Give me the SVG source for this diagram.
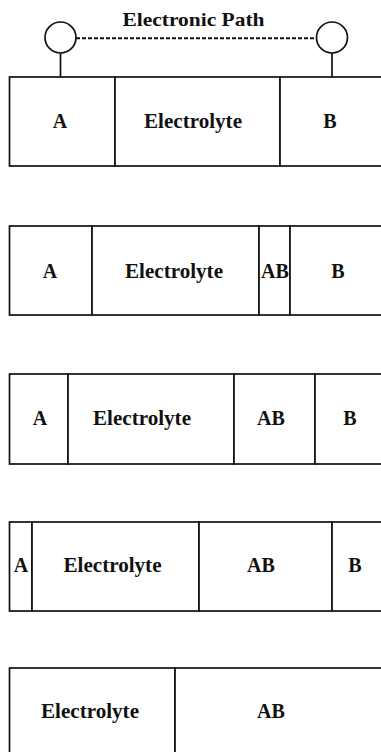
<svg xmlns="http://www.w3.org/2000/svg" width="381" height="752" viewBox="0 0 381 752">
<style>
.cell{fill:#fff;stroke:#111;stroke-width:1.7}
.lbl{font-family:"Liberation Serif","Times New Roman",serif;font-weight:bold;font-size:20px;fill:#111;text-anchor:middle}
.title{font-family:"Liberation Serif","Times New Roman",serif;font-weight:bold;font-size:19.5px;fill:#111;text-anchor:middle}
.term{fill:#fff;stroke:#111;stroke-width:1.7}
.wire{stroke:#111;stroke-width:1.7;fill:none}
.dash{stroke:#111;stroke-width:2;fill:none;stroke-dasharray:4 2}
</style>
<rect width="381" height="752" fill="#fff"/>
<g id="connectors">
<line class="wire" x1="60.5" y1="53" x2="60.5" y2="77"/>
<line class="wire" x1="332" y1="53" x2="332" y2="77"/>
<line class="dash" x1="76" y1="38.3" x2="316" y2="38.3"/>
</g>
<g id="terminal-A"><circle class="term" cx="60.5" cy="37.5" r="15.5"/></g>
<g id="terminal-B"><circle class="term" cx="332" cy="37.5" r="15.5"/></g>
<g id="title"><text class="title" x="193.5" y="25.5" textLength="142" lengthAdjust="spacingAndGlyphs">Electronic Path</text></g>

<g id="row1">
<g id="r1-A"><rect class="cell" x="9.5" y="77" width="105.5" height="89"/><text class="lbl" x="60" y="128">A</text></g>
<g id="r1-E"><rect class="cell" x="115" y="77" width="165" height="89"/><text class="lbl" x="193" y="128" textLength="98" lengthAdjust="spacingAndGlyphs">Electrolyte</text></g>
<g id="r1-B"><rect class="cell" x="280" y="77" width="120" height="89"/><text class="lbl" x="330" y="128">B</text></g>
</g>

<g id="row2">
<g id="r2-A"><rect class="cell" x="9.5" y="226" width="82.5" height="89"/><text class="lbl" x="50" y="278">A</text></g>
<g id="r2-E"><rect class="cell" x="92" y="226" width="167" height="89"/><text class="lbl" x="174" y="278" textLength="98" lengthAdjust="spacingAndGlyphs">Electrolyte</text></g>
<g id="r2-AB"><rect class="cell" x="259" y="226" width="31" height="89"/><text class="lbl" x="275" y="278">AB</text></g>
<g id="r2-B"><rect class="cell" x="290" y="226" width="110" height="89"/><text class="lbl" x="338" y="278">B</text></g>
</g>

<g id="row3">
<g id="r3-A"><rect class="cell" x="9.5" y="374" width="58.5" height="90"/><text class="lbl" x="40" y="425">A</text></g>
<g id="r3-E"><rect class="cell" x="68" y="374" width="166" height="90"/><text class="lbl" x="142" y="425" textLength="98" lengthAdjust="spacingAndGlyphs">Electrolyte</text></g>
<g id="r3-AB"><rect class="cell" x="234" y="374" width="81" height="90"/><text class="lbl" x="271" y="425">AB</text></g>
<g id="r3-B"><rect class="cell" x="315" y="374" width="85" height="90"/><text class="lbl" x="350" y="425">B</text></g>
</g>

<g id="row4">
<g id="r4-A"><rect class="cell" x="9.5" y="522" width="22.5" height="89"/><text class="lbl" x="21" y="572">A</text></g>
<g id="r4-E"><rect class="cell" x="32" y="522" width="167" height="89"/><text class="lbl" x="112.5" y="572" textLength="98" lengthAdjust="spacingAndGlyphs">Electrolyte</text></g>
<g id="r4-AB"><rect class="cell" x="199" y="522" width="133" height="89"/><text class="lbl" x="261" y="572">AB</text></g>
<g id="r4-B"><rect class="cell" x="332" y="522" width="68" height="89"/><text class="lbl" x="355" y="572">B</text></g>
</g>

<g id="row5">
<g id="r5-E"><rect class="cell" x="9.5" y="668" width="165.5" height="100"/><text class="lbl" x="90" y="718" textLength="98" lengthAdjust="spacingAndGlyphs">Electrolyte</text></g>
<g id="r5-AB"><rect class="cell" x="175" y="668" width="225" height="100"/><text class="lbl" x="271" y="718">AB</text></g>
</g>
</svg>
